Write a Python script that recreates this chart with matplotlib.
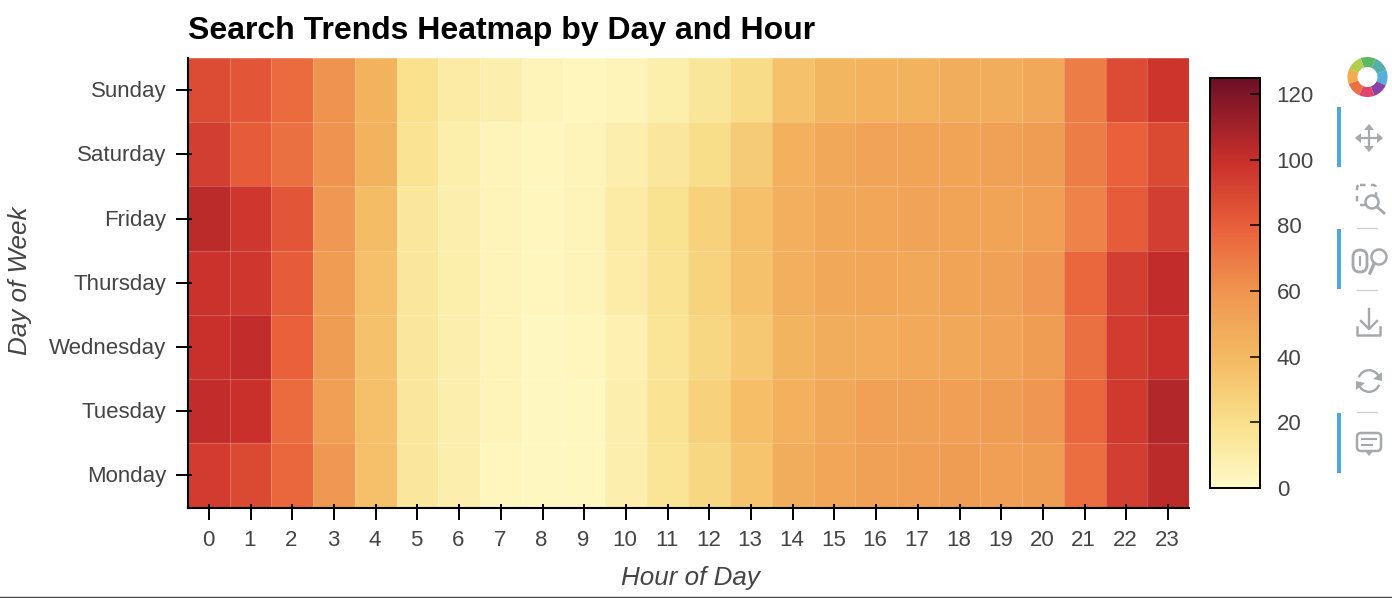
import numpy as np
import matplotlib
matplotlib.use("Agg")
import matplotlib.pyplot as plt
from matplotlib.colors import LinearSegmentedColormap
from matplotlib.lines import Line2D
from matplotlib.patches import Circle, Wedge, FancyBboxPatch, Rectangle, Polygon
from matplotlib.transforms import ScaledTranslation

plt.rcParams['font.family'] = ['Liberation Sans', 'DejaVu Sans']

days = ["Monday", "Tuesday", "Wednesday", "Thursday", "Friday", "Saturday", "Sunday"]
hours = list(range(24))
monday = [95, 89, 78, 59, 37, 15, 9, 4, 3, 3, 9, 17, 25, 35, 47, 51, 54, 55, 56, 55, 56, 75, 94, 104]
tuesday = [102, 100, 76, 55, 37, 15, 9, 5, 3, 3, 9, 18, 28, 38, 45, 50, 54, 54, 55, 56, 60, 78, 96, 106]
wednesday = [100, 102, 80, 56, 36, 15, 9, 5, 3, 4, 8, 17, 25, 33, 43, 47, 48, 49, 50, 52, 56, 74, 95, 100]
thursday = [99, 97, 82, 57, 37, 15, 10, 5, 4, 5, 11, 18, 27, 36, 46, 50, 51, 50, 53, 54, 59, 78, 94, 102]
friday = [104, 97, 84, 59, 39, 15, 9, 5, 4, 5, 12, 19, 28, 37, 46, 50, 51, 52, 53, 53, 55, 67, 82, 94]
saturday = [94, 82, 74, 61, 44, 18, 10, 5, 4, 5, 9, 15, 21, 31, 45, 50, 52, 53, 53, 54, 56, 69, 80, 89]
sunday = [88, 84, 76, 61, 44, 20, 12, 9, 5, 4, 5, 10, 16, 22, 36, 42, 44, 44, 47, 47, 50, 69, 88, 98]
values = np.array([monday, tuesday, wednesday, thursday, friday, saturday, sunday])

vmin, vmax = 0, 125
color_stops = [(0 / 125, "#FFFBC8"), (20 / 125, "#F9E08C"), (40 / 125, "#F4BA62"),
               (60 / 125, "#EF9650"), (80 / 125, "#E9603A"), (100 / 125, "#C9302B"),
               (1.0, "#6E1026")]
cmap = LinearSegmentedColormap.from_list("trend", color_stops, N=256)

W, H = 1392, 598
fig = plt.figure(figsize=(W / 100, H / 100), dpi=100, facecolor="white")


def px_axes(x0, y0, x1, y1):
    return fig.add_axes([x0 / W, 1 - y1 / H, (x1 - x0) / W, (y1 - y0) / H])


TXT = "#444444"
ax = px_axes(188, 58, 1189, 507.5)
mesh = ax.pcolormesh(np.arange(25) - 0.5, np.arange(8) - 0.5, values, cmap=cmap,
                     vmin=vmin, vmax=vmax, linewidth=0, antialiased=False)
ax.vlines(np.arange(25) - 0.5, -0.5, 6.5, color="white", alpha=0.2, lw=0.8)
ax.hlines(np.arange(8) - 0.5, -0.5, 23.5, color="white", alpha=0.2, lw=0.8)
ax.set_xlim(-0.5, 23.5)
ax.set_ylim(-0.5, 6.5)
ax.set_xticks(hours)
ax.set_xticklabels([str(h) for h in hours])
ax.set_yticks(range(7))
ax.set_yticklabels(days)
ax.xaxis.remove_overlapping_locs = False
ax.yaxis.remove_overlapping_locs = False
ax.set_xticks(hours, minor=True)
ax.set_yticks(range(7), minor=True)
ax.tick_params(which="major", direction="out", length=8.5, width=1.4, color="black",
               labelsize=16, labelcolor=TXT)
ax.tick_params(axis="y", which="major", pad=7)
ax.tick_params(axis="x", which="major", pad=8)
ax.tick_params(which="minor", direction="in", length=3, width=1.4, color="black")
for s in ("top", "right"):
    ax.spines[s].set_visible(False)
for s in ("left", "bottom"):
    ax.spines[s].set_linewidth(1.5)
    ax.spines[s].set_color("black")
for lab in ax.get_yticklabels():
    lab.set_transform(lab.get_transform() + ScaledTranslation(0, 1 / 100, fig.dpi_scale_trans))
for lab in ax.get_xticklabels():
    lab.set_transform(lab.get_transform() + ScaledTranslation(-1 / 100, 0, fig.dpi_scale_trans))
fig.text(188 / W, 1 - 31 / H, "Search Trends Heatmap by Day and Hour", fontsize=23.03,
         fontweight="bold", color="black", ha="left", va="center")
fig.text(690.5 / W, 1 - 577.5 / H, "Hour of Day", fontsize=18.7, style="italic", color=TXT,
         ha="center", va="center")
fig.text(20 / W, 1 - 281 / H, "Day of Week", fontsize=18.7, style="italic", color=TXT,
         rotation=90, ha="center", va="center")

cax = px_axes(1210, 77.5, 1260, 488)
cb = fig.colorbar(mesh, cax=cax)
cb.set_ticks([0, 20, 40, 60, 80, 100, 120])
cb.solids.set_edgecolor("face")
cb.ax.tick_params(direction="in", length=7, width=1.1, color="black", labelsize=16,
                  labelcolor=TXT, pad=12)
cb.outline.set_linewidth(1.4)
cb.outline.set_edgecolor("black")

# Page-level decorations in pixel coordinates
ov = fig.add_axes([0, 0, 1, 1], facecolor="none")
ov.set_xlim(0, W)
ov.set_ylim(H, 0)
ov.axis("off")
ov.add_line(Line2D([0, W], [597.3, 597.3], color="#444444", lw=1))

# Toolbar logo
logo = ["#4CAF50", "#3FA7A0", "#45A5DC", "#7B2D9B", "#E0305C", "#E8602C", "#F2A33A", "#A8C93A"]
for i, c in enumerate(logo):
    ov.add_patch(Wedge((1367.5, 77), 20, -110 + i * 45, -110 + (i + 1) * 45, width=10, color=c, lw=0, alpha=0.9))

# Toolbar active markers
BLUE = "#4FA8DC"
for y0, y1 in [(107, 167), (229, 289), (413, 473)]:
    ov.add_patch(Rectangle((1337, y0), 3.5, y1 - y0, color=BLUE, lw=0))

# Toolbar separators
GR = "#A6A9AC"
for y in (228, 290, 412):
    ov.add_line(Line2D([1357, 1377], [y, y], color="#CFCFCF", lw=1))

# Pan icon
cx, cy = 1369, 138
ov.add_line(Line2D([cx - 12, cx + 12], [cy, cy], color=GR, lw=1.6))
ov.add_line(Line2D([cx, cx], [cy - 12, cy + 12], color=GR, lw=1.6))
for dx, dy in [(1, 0), (-1, 0), (0, 1), (0, -1)]:
    tip = (cx + 14 * dx, cy + 14 * dy)
    a = (cx + 8 * dx + 5 * dy, cy + 8 * dy + 5 * dx)
    b = (cx + 8 * dx - 5 * dy, cy + 8 * dy - 5 * dx)
    ov.add_patch(Polygon([tip, a, b], closed=True, fc=GR, ec="none"))

# Box zoom icon
ov.add_patch(FancyBboxPatch((1357, 185), 19, 20, boxstyle="round,pad=0,rounding_size=3",
                            fc="none", ec=GR, lw=1.8, ls=(0, (2.2, 2.2))))
ov.add_patch(Circle((1372, 202), 6.5, fc="white", ec=GR, lw=1.8))
ov.add_line(Line2D([1377, 1384], [207, 213], color=GR, lw=2))

# Wheel zoom icon
ov.add_patch(FancyBboxPatch((1353, 250), 14, 22, boxstyle="round,pad=0,rounding_size=7",
                            fc="none", ec=GR, lw=2))
ov.add_line(Line2D([1360, 1360], [257, 265], color=GR, lw=1.5))
ov.add_patch(Circle((1379, 257), 7.5, fc="none", ec=GR, lw=1.8))
ov.add_line(Line2D([1374, 1370], [264, 273], color=GR, lw=2.4))

# Save icon
ov.add_line(Line2D([1369, 1369], [309, 328], color=GR, lw=1.7))
ov.add_line(Line2D([1361, 1369, 1377], [321, 329, 321], color=GR, lw=1.7))
ov.add_line(Line2D([1357, 1357, 1380, 1380], [327, 335, 335, 327], color=GR, lw=1.8))

# Reset icon
ov.add_patch(Wedge((1369, 381), 12, 200, 340, width=2.4, color=GR, lw=0))
ov.add_patch(Wedge((1369, 381), 12, 20, 160, width=2.4, color=GR, lw=0))
ov.add_patch(Polygon([(1382, 372), (1382, 381), (1373, 379)], fc=GR, ec="none"))
ov.add_patch(Polygon([(1356, 390), (1356, 381), (1365, 383)], fc=GR, ec="none"))

# Comment icon
ov.add_patch(FancyBboxPatch((1357, 433), 24, 18, boxstyle="round,pad=0,rounding_size=4",
                            fc="none", ec=GR, lw=1.8))
ov.add_patch(Polygon([(1365, 451), (1373, 451), (1369, 456)], fc=GR, ec="none"))
ov.add_line(Line2D([1362, 1376], [439, 439], color=GR, lw=1.5))
ov.add_line(Line2D([1362, 1372], [445, 445], color=GR, lw=1.5))

fig.savefig("out.png", dpi=100, facecolor="white")
